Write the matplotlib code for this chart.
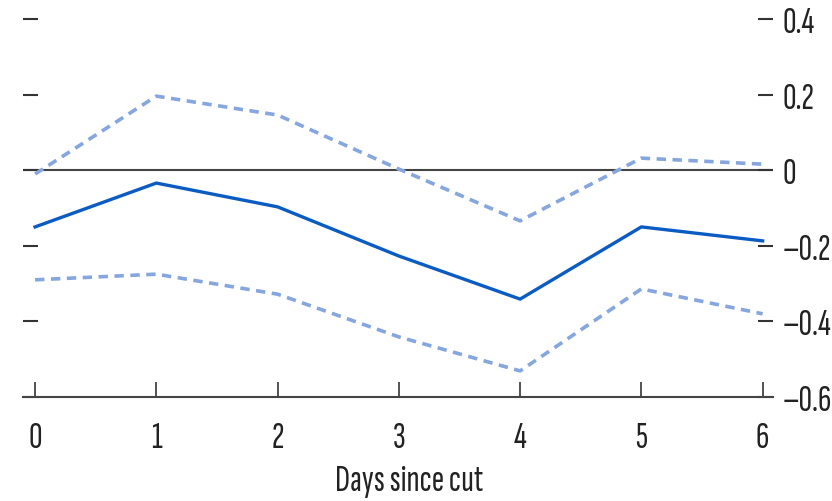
from matplotlib import pyplot as plt
import numpy as np

# days since the cut
days = [0, 1, 2, 3, 4, 5, 6]

# point estimate and confidence band
estimate = [-0.150, -0.034, -0.097, -0.227, -0.341, -0.150, -0.187]
upper = [-0.010, 0.196, 0.146, 0.003, -0.134, 0.032, 0.016]
lower = [-0.290, -0.275, -0.328, -0.441, -0.531, -0.314, -0.380]

y_ticks = [-0.6, -0.4, -0.2, 0, 0.2, 0.4]

plt.rcParams['font.family'] = ['Sofia Sans Extra Condensed', 'DejaVu Sans']
plt.rcParams['font.weight'] = 'medium'

fig = plt.figure(figsize=(8.32, 5.02), dpi=100)
ax = fig.add_axes([0.0276, 0.2072, 0.9014, 0.7928])

# zero reference line
ax.axhline(0, color='#444444', lw=1.5, zorder=1)

# confidence band as dashed lines
ax.plot(days, upper, color='#85a6de', lw=2.6, dashes=(2.6, 1.8), zorder=2)
ax.plot(days, lower, color='#85a6de', lw=2.6, dashes=(2.6, 1.8), zorder=2)

# point estimate
ax.plot(days, estimate, color='#0b5cc2', lw=2.4, zorder=3)

ax.set_xlim(-0.1, 6.085)
ax.set_ylim(-0.6, 0.453)

ax.set_xticks(days)
ax.set_yticks(y_ticks)
ax.set_yticklabels(["0" if v == 0 else f"{v:.1f}".replace("-", "\u2013") for v in y_ticks])

for side in ["left", "right", "top"]:
    ax.spines[side].set_visible(False)
ax.spines["bottom"].set_color('#444444')
ax.spines["bottom"].set_linewidth(1.5)

ax.tick_params(axis='y', left=True, right=True, labelleft=False, labelright=True,
               direction='in', length=11, width=1.5, color='#333333',
               labelsize=27, pad=7, labelcolor='#222222')
ax.tick_params(axis='x', direction='in', length=11, width=1.3, color='#444444',
               labelsize=27, pad=17, labelcolor='#222222')

ax.set_xlabel("Days since cut", fontsize=27, color='#222222')
ax.xaxis.set_label_coords(0.515, -0.168)

plt.savefig("out.png", dpi=100)
